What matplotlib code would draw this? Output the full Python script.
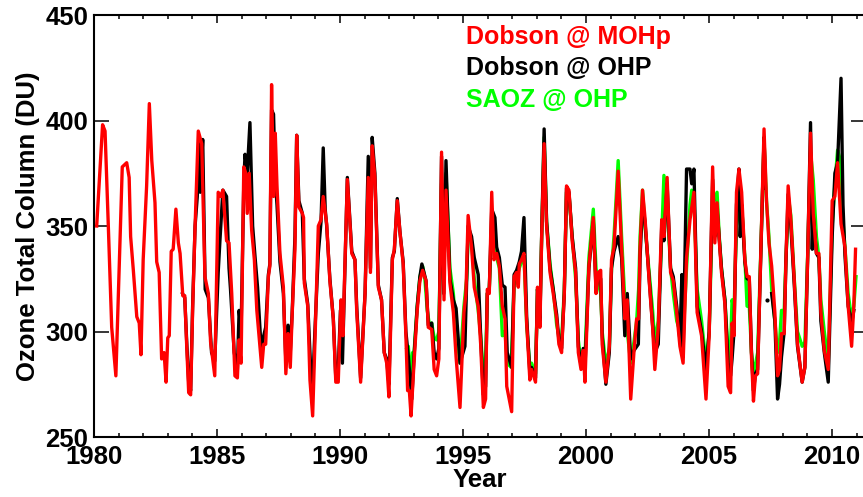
import numpy as np
import matplotlib
matplotlib.use('Agg')
import matplotlib.pyplot as plt
from matplotlib.ticker import MultipleLocator

plt.rcParams['font.family'] = 'Liberation Sans'
plt.rcParams['font.weight'] = 'bold'

# Dobson @ MOHp (red), lecture graphique des sommets de la courbe
red_t = [1980.11, 1980.35, 1980.45, 1980.58, 1980.72, 1980.89, 1981.15, 1981.33, 1981.43, 1981.49,
         1981.60, 1981.74, 1981.84, 1981.91, 1982.00, 1982.14, 1982.25, 1982.35, 1982.48, 1982.55,
         1982.65, 1982.75, 1982.85, 1982.93, 1983.00, 1983.06, 1983.14, 1983.22, 1983.33, 1983.43,
         1983.50, 1983.61, 1983.69, 1983.77, 1983.85, 1983.93, 1984.01, 1984.11, 1984.24, 1984.38,
         1984.51, 1984.65, 1984.74, 1984.91, 1985.05, 1985.15, 1985.24, 1985.39, 1985.49, 1985.60,
         1985.73, 1985.83, 1985.89, 1985.98, 1986.09, 1986.17, 1986.23, 1986.31, 1986.41, 1986.52,
         1986.62, 1986.82, 1986.90, 1986.98, 1987.09, 1987.15, 1987.22, 1987.30, 1987.37, 1987.44,
         1987.56, 1987.70, 1987.80, 1987.89, 1987.98, 1988.06, 1988.17, 1988.24, 1988.33, 1988.47,
         1988.52, 1988.55, 1988.69, 1988.78, 1988.89, 1988.98, 1989.12, 1989.23, 1989.32, 1989.46,
         1989.59, 1989.73, 1989.83, 1989.93, 1990.04, 1990.12, 1990.30, 1990.48, 1990.61, 1990.68,
         1990.84, 1991.02, 1991.15, 1991.24, 1991.31, 1991.42, 1991.56, 1991.69, 1991.80, 1991.90,
         1991.99, 1992.13, 1992.21, 1992.33, 1992.44, 1992.57, 1992.68, 1992.75, 1992.82, 1992.89,
         1993.01, 1993.14, 1993.25, 1993.36, 1993.50, 1993.59, 1993.73, 1993.83, 1993.93, 1994.02,
         1994.13, 1994.23, 1994.31, 1994.47, 1994.61, 1994.72, 1994.88, 1995.04, 1995.12, 1995.21,
         1995.35, 1995.46, 1995.62, 1995.72, 1995.83, 1995.92, 1995.99, 1996.07, 1996.17, 1996.26,
         1996.37, 1996.48, 1996.60, 1996.71, 1996.78, 1996.98, 1997.08, 1997.18, 1997.25, 1997.29,
         1997.38, 1997.48, 1997.59, 1997.72, 1997.79, 1997.95, 1998.03, 1998.13, 1998.20, 1998.30,
         1998.40, 1998.54, 1998.67, 1998.81, 1998.90, 1999.01, 1999.12, 1999.21, 1999.31, 1999.44,
         1999.58, 1999.69, 1999.80, 1999.89, 1999.96, 2000.12, 2000.30, 2000.41, 2000.50, 2000.60,
         2000.66, 2000.81, 2000.95, 2001.04, 2001.14, 2001.31, 2001.45, 2001.58, 2001.68, 2001.82,
         2001.95, 2002.06, 2002.14, 2002.20, 2002.30, 2002.40, 2002.57, 2002.71, 2002.80, 2002.94,
         2003.08, 2003.17, 2003.30, 2003.44, 2003.55, 2003.69, 2003.82, 2003.95, 2004.09, 2004.23,
         2004.39, 2004.52, 2004.70, 2004.88, 2005.01, 2005.15, 2005.24, 2005.33, 2005.42, 2005.51,
         2005.65, 2005.78, 2005.88, 2005.94, 2006.02, 2006.12, 2006.22, 2006.33, 2006.46, 2006.55,
         2006.64, 2006.73, 2006.81, 2006.89, 2006.98, 2007.10, 2007.24, 2007.34, 2007.44, 2007.55,
         2007.68, 2007.79, 2007.87, 2007.95, 2008.06, 2008.13, 2008.22, 2008.33, 2008.47, 2008.60,
         2008.79, 2008.90, 2009.01, 2009.13, 2009.24, 2009.37, 2009.47, 2009.55, 2009.69, 2009.85,
         2010.01, 2010.12, 2010.23, 2010.37, 2010.53, 2010.66, 2010.80, 2010.89, 2010.96]
red_v = [350, 398, 395, 351, 302, 279, 378, 380, 373, 345,
         329, 307, 304, 289, 334, 369, 408, 381, 361, 333,
         328, 287, 290, 276, 297, 298, 338, 339, 358, 342,
         337, 317, 317, 293, 271, 270, 310, 350, 395, 389,
         326, 318, 295, 279, 366, 364, 367, 343, 342, 318,
         279, 278, 296, 285, 378, 375, 356, 375, 348, 334,
         310, 283, 294, 294, 326, 331, 417, 364, 394, 369,
         337, 321, 280, 299, 283, 309, 339, 393, 359, 356,
         354, 323, 312, 277, 260, 294, 350, 353, 364, 351,
         324, 306, 276, 276, 315, 298, 372, 337, 334, 310,
         276, 318, 373, 328, 388, 373, 321, 315, 290, 285,
         269, 334, 339, 362, 347, 332, 298, 272, 272, 260,
         285, 310, 324, 329, 324, 302, 301, 282, 279, 287,
         385, 315, 367, 323, 309, 288, 264, 309, 318, 355,
         340, 321, 312, 294, 264, 268, 320, 318, 366, 334,
         337, 331, 312, 306, 274, 262, 326, 328, 321, 332,
         334, 337, 304, 277, 282, 276, 321, 302, 345, 389,
         350, 328, 318, 306, 294, 290, 318, 369, 367, 343,
         328, 290, 282, 291, 276, 331, 354, 318, 328, 329,
         294, 276, 293, 334, 340, 376, 340, 306, 315, 268,
         290, 306, 306, 340, 367, 354, 324, 302, 282, 302,
         353, 345, 373, 328, 324, 309, 293, 285, 335, 353,
         366, 309, 298, 268, 298, 378, 342, 361, 343, 328,
         313, 274, 271, 304, 298, 366, 377, 366, 334, 326,
         326, 288, 267, 279, 280, 334, 396, 362, 342, 331,
         309, 279, 282, 299, 299, 334, 369, 353, 324, 294,
         276, 283, 334, 394, 356, 337, 337, 309, 291, 282,
         362, 364, 380, 351, 340, 312, 293, 312, 339]

# Dobson @ OHP (black)
black_t = [1983.60, 1983.69, 1983.77, 1983.85, 1983.93, 1984.01, 1984.11, 1984.20, 1984.26, 1984.32,
           1984.42, 1984.52, 1984.65, 1984.78, 1984.91, 1985.05, 1985.12, 1985.24, 1985.39, 1985.49,
           1985.55, 1985.70, 1985.83, 1985.90, 1985.98, 1986.09, 1986.14, 1986.23, 1986.34, 1986.45,
           1986.55, 1986.65, 1986.80, 1986.90, 1986.98, 1987.09, 1987.15, 1987.22, 1987.30, 1987.37,
           1987.44, 1987.56, 1987.70, 1987.80, 1987.89, 1987.98, 1988.06, 1988.17, 1988.24, 1988.33,
           1988.47, 1988.55, 1988.69, 1988.80, 1988.89, 1988.98, 1989.12, 1989.23, 1989.32, 1989.40,
           1989.46, 1989.59, 1989.73, 1989.83, 1989.93, 1990.02, 1990.10, 1990.30, 1990.48, 1990.61,
           1990.68, 1990.84, 1991.02, 1991.15, 1991.24, 1991.31, 1991.42, 1991.56, 1991.69, 1991.80,
           1991.90, 1991.99, 1992.13, 1992.21, 1992.33, 1992.44, 1992.57, 1992.68, 1992.78, 1992.85,
           1992.92, 1993.01, 1993.14, 1993.25, 1993.33, 1993.50, 1993.59, 1993.73, 1993.83, 1993.93,
           1994.02, 1994.13, 1994.22, 1994.31, 1994.47, 1994.61, 1994.72, 1994.88, 1995.08, 1995.21,
           1995.35, 1995.46, 1995.62, 1995.72, 1995.83, 1995.92, 1995.99, 1996.07, 1996.17, 1996.30,
           1996.37, 1996.48, 1996.60, 1996.71, 1996.80, 1996.98, 1997.08, 1997.18, 1997.29, 1997.38,
           1997.48, 1997.59, 1997.72, 1997.79, 1997.95, 1998.03, 1998.13, 1998.20, 1998.30, 1998.40,
           1998.54, 1998.67, 1998.81, 1998.90, 1999.01, 1999.12, 1999.21, 1999.31, 1999.44, 1999.58,
           1999.69, 1999.80, 1999.89, 1999.96, 2000.12, 2000.30, 2000.41, 2000.50, 2000.60, 2000.66,
           2000.81, 2000.95, 2001.04, 2001.14, 2001.31, 2001.45, 2001.58, 2001.68, 2001.82, 2001.95,
           2002.13, 2002.20, 2002.30, 2002.40, 2002.57, 2002.71, 2002.80, 2002.94, 2003.08, 2003.17,
           2003.30, 2003.44, 2003.55, 2003.69, 2003.82, 2003.90, 2003.95, 2004.09, 2004.23, 2004.30,
           2004.39, 2004.52, 2004.70, 2004.88, 2005.01, 2005.15, 2005.24, 2005.33, 2005.51, 2005.65,
           2005.78, 2005.88, 2005.94, 2006.02, 2006.12, 2006.22, 2006.27, 2006.33, 2006.46, 2006.55,
           2006.64, 2006.73, 2006.81, 2006.89, 2006.98, 2007.10, 2007.24, 2007.30, 2007.34, 2007.38,
           2007.42, 2007.55, 2007.68, 2007.79, 2007.87, 2007.95, 2008.06, 2008.13, 2008.22, 2008.33,
           2008.47, 2008.60, 2008.79, 2008.90, 2009.01, 2009.13, 2009.20, 2009.24, 2009.37, 2009.47,
           2009.55, 2009.69, 2009.85, 2010.01, 2010.12, 2010.23, 2010.37, 2010.45, 2010.53, 2010.66,
           2010.80, 2010.89]
black_v = [318, 316, 295, 276, 272, 312, 350, 364, 392, 366,
           391, 320, 316, 290, 286, 328, 343, 367, 364, 330,
           320, 290, 282, 310, 300, 370, 384, 375, 399, 350,
           335, 321, 291, 298, 302, 327, 332, 405, 403, 372,
           360, 333, 318, 286, 303, 290, 310, 345, 393, 362,
           356, 325, 313, 285, 274, 300, 337, 352, 387, 358,
           350, 325, 306, 278, 282, 310, 285, 373, 338, 334,
           312, 278, 318, 383, 330, 392, 375, 322, 315, 290,
           287, 275, 335, 338, 363, 347, 333, 300, 288, 278,
           268, 288, 312, 326, 332, 324, 303, 304, 290, 287,
           292, 383, 318, 381, 325, 315, 311, 285, 293, 350,
           345, 335, 327, 298, 270, 274, 318, 320, 358, 354,
           340, 335, 322, 321, 290, 283, 327, 329, 333, 338,
           354, 307, 280, 283, 278, 320, 305, 346, 396, 352,
           330, 320, 308, 296, 292, 318, 368, 366, 345, 330,
           293, 284, 292, 283, 330, 352, 320, 327, 325, 298,
           275, 290, 330, 338, 345, 335, 298, 318, 287, 291,
           294, 335, 360, 352, 325, 303, 290, 294, 350, 343,
           370, 330, 326, 312, 296, 327, 288, 377, 377, 370,
           377, 312, 300, 282, 300, 372, 345, 358, 330, 315,
           285, 279, 287, 300, 360, 377, 345, 360, 333, 325,
           325, 290, 272, 280, 282, 333, 392, 368, np.nan, 315,
           np.nan, 318, 305, 268, 275, 288, 300, 333, 365, 350,
           322, 293, 276, 283, 333, 399, 339, 355, 337, 335,
           305, 290, 276, 345, 375, 380, 420, 360, 336, 312,
           304, 310]

# SAOZ @ OHP (green)
green_t = [1992.72, 1992.78, 1992.86, 1992.95, 1993.01, 1993.14, 1993.25, 1993.36, 1993.45, 1993.55,
           1993.65, 1993.73, 1993.83, 1993.93, 1994.02, 1994.13, 1994.22, 1994.31, 1994.47, 1994.61,
           1994.72, 1994.88, 1995.04, 1995.15, 1995.21, 1995.35, 1995.46, 1995.62, 1995.72, 1995.83,
           1995.92, 1995.99, 1996.07, 1996.17, 1996.26, 1996.37, 1996.48, 1996.60, 1996.71, 1996.80,
           1996.96, 1997.08, 1997.18, 1997.29, 1997.38, 1997.48, 1997.59, 1997.72, 1997.79, 1997.95,
           1998.03, 1998.13, 1998.20, 1998.30, 1998.40, 1998.54, 1998.67, 1998.81, 1998.90, 1999.01,
           1999.12, 1999.21, 1999.31, 1999.44, 1999.58, 1999.69, 1999.80, 1999.89, 1999.96, 2000.12,
           2000.30, 2000.41, 2000.50, 2000.60, 2000.66, 2000.81, 2000.95, 2001.04, 2001.14, 2001.31,
           2001.45, 2001.58, 2001.68, 2001.82, 2001.95, 2002.06, 2002.14, 2002.20, 2002.30, 2002.40,
           2002.57, 2002.71, 2002.80, 2002.94, 2003.08, 2003.17, 2003.30, 2003.44, 2003.55, 2003.69,
           2003.82, 2003.95, 2004.09, 2004.23, 2004.30, 2004.39, 2004.52, 2004.70, 2004.88, 2005.01,
           2005.15, 2005.33, 2005.42, 2005.51, 2005.65, 2005.78, 2005.85, 2005.94, 2006.02, 2006.12,
           2006.22, 2006.33, 2006.46, 2006.55, 2006.64, 2006.73, 2006.81, 2006.90, 2006.98, 2007.10,
           2007.24, 2007.34, 2007.44, 2007.55, 2007.68, 2007.79, 2007.87, 2007.95, 2008.06, 2008.13,
           2008.25, 2008.33, 2008.47, 2008.60, 2008.79, 2008.90, 2009.01, 2009.13, 2009.24, 2009.37,
           2009.47, 2009.55, 2009.69, 2009.85, 2010.01, 2010.12, 2010.23, 2010.30, 2010.40, 2010.53,
           2010.66, 2010.80, 2010.89, 2010.98]
green_v = [292, 293, 277, 290, 290, 312, 326, 331, 325, 310,
           302, 304, 297, 296, 300, 370, 330, 375, 330, 318,
           300, 285, 312, 325, 345, 343, 325, 310, 298, 280,
           285, 318, 320, 350, 345, 335, 330, 298, 300, 285,
           283, 322, 325, 330, 333, 336, 303, 283, 285, 280,
           320, 308, 345, 392, 352, 332, 320, 303, 298, 296,
           320, 366, 365, 345, 325, 296, 285, 287, 288, 335,
           358, 330, 323, 318, 300, 284, 292, 330, 345, 381,
           345, 315, 300, 285, 295, 305, 320, 345, 367, 350,
           328, 310, 295, 305, 345, 374, 360, 330, 318, 305,
           300, 296, 330, 360, 367, 362, 320, 305, 285, 300,
           360, 366, 345, 330, 315, 290, 283, 315, 310, 350,
           358, 360, 335, 312, 312, 290, 280, 285, 290, 335,
           391, 362, 345, 320, 305, 290, 295, 310, 310, 335,
           362, 355, 325, 300, 293, 295, 335, 385, 372, 345,
           335, 315, 300, 285, 350, 370, 386, 383, 360, 340,
           318, 306, 312, 326]

fig = plt.figure(figsize=(8.63, 4.97), dpi=100)
ax = fig.add_axes([0.1089, 0.1207, 0.8950, 0.8491])

ax.plot(green_t, green_v, color='#00ff00', lw=2.4, zorder=2)
ax.plot(black_t, black_v, color='black', lw=2.4, zorder=3)

# points isoles (entoures de trous) : sinon invisibles avec plot
bv = np.array(black_v, dtype=float)
bt = np.array(black_t)
prev_nan = np.r_[True, np.isnan(bv[:-1])]
next_nan = np.r_[np.isnan(bv[1:]), True]
alone = prev_nan & next_nan & ~np.isnan(bv)
ax.plot(bt[alone], bv[alone], 'o', color='black', ms=2, zorder=3)

ax.plot(red_t, red_v, color='red', lw=2.4, zorder=4)

ax.set_xlim(1980, 2011.4)
ax.set_ylim(250, 450)
ax.xaxis.set_major_locator(MultipleLocator(5))
ax.xaxis.set_minor_locator(MultipleLocator(1))
ax.yaxis.set_major_locator(MultipleLocator(50))

ax.tick_params(axis='x', which='major', direction='in', length=6, width=1.1,
               top=True, labelsize=18.5, pad=6)
ax.tick_params(axis='x', which='minor', direction='in', length=3, width=1.1, top=True)
ax.tick_params(axis='y', which='major', direction='in', length=11, width=1.1,
               right=True, labelsize=18.5, pad=4)
for s in ax.spines.values():
    s.set_linewidth(1.5)

ax.set_xlabel('Year', fontsize=18.5, fontweight='bold', labelpad=-1)
ax.set_ylabel('Ozone Total Column (DU)', fontsize=18.5, fontweight='bold')

ax.text(0.482, 0.9486, 'Dobson @ MOHp', color='red', fontsize=18, fontweight='bold',
        transform=ax.transAxes, va='center')
ax.text(0.482, 0.8737, 'Dobson @ OHP', color='black', fontsize=18, fontweight='bold',
        transform=ax.transAxes, va='center')
ax.text(0.482, 0.7986, 'SAOZ @ OHP', color='#00ff00', fontsize=18, fontweight='bold',
        transform=ax.transAxes, va='center')

fig.savefig('out.png', dpi=100)
